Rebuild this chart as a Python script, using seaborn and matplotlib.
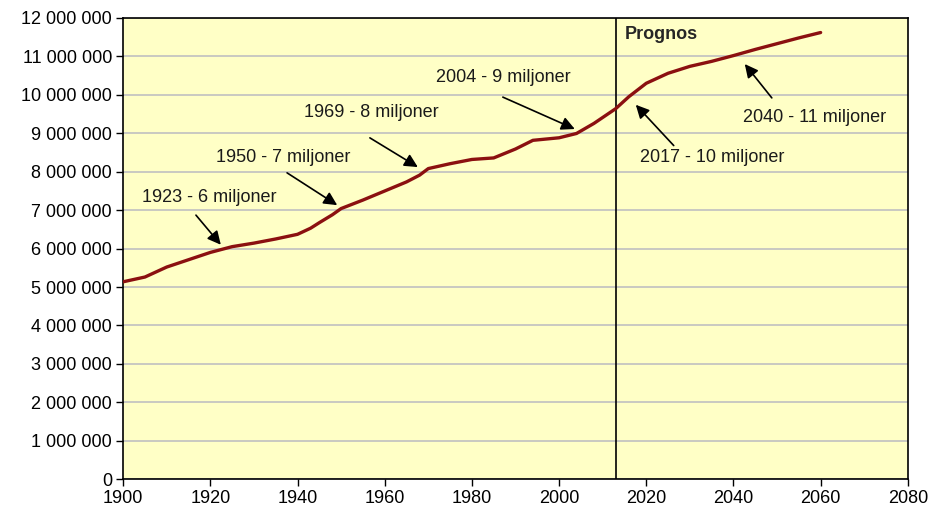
import seaborn as sns
import pandas as pd
import matplotlib.pyplot as plt
from matplotlib.ticker import FuncFormatter, MultipleLocator

# Sweden's population, history + forecast
years = [1900, 1905, 1910, 1915, 1920, 1923, 1925, 1930, 1935, 1940, 1943, 1945,
         1948, 1950, 1955, 1960, 1965, 1968, 1970, 1975, 1980, 1985, 1990, 1994,
         2000, 2004, 2008, 2013, 2016, 2020, 2025, 2030, 2035, 2040, 2045, 2050,
         2055, 2060]
population = [5136000, 5260000, 5520000, 5710000, 5900000, 5990000, 6050000,
              6142000, 6250000, 6371000, 6530000, 6674000, 6880000, 7041000,
              7262000, 7498000, 7734000, 7910000, 8081000, 8208000, 8318000,
              8358000, 8590000, 8816000, 8882000, 8994000, 9256000, 9640000,
              9950000, 10300000, 10560000, 10740000, 10870000, 11020000,
              11180000, 11330000, 11480000, 11620000]

# Annotations: label, text centre, arrow tail, arrow head
labels = ["1923 - 6 miljoner", "1950 - 7 miljoner", "1969 - 8 miljoner",
          "2004 - 9 miljoner", "2017 - 10 miljoner", "2040 - 11 miljoner"]
label_texts = [(1919.8, 7340000), (1936.8, 8380000), (1957.0, 9530000),
               (1987.2, 10460000), (2035.2, 8380000), (2058.6, 9420000)]
arrow_tails = [(1916.7, 6870000), (1937.6, 7970000), (1956.6, 8880000),
               (1987.1, 9940000), (2026.3, 8680000), (2048.8, 9920000)]
arrow_heads = [(1922.4, 6100000), (1949.1, 7130000), (1967.6, 8120000),
               (2003.6, 9110000), (2017.6, 9740000), (2042.6, 10800000)]

forecast_start = 2013

df = pd.DataFrame({"year": years, "population": population})

#-----------------------------------------------------------------------------------------------------------------------
sns.set_style("white")
plt.rcParams['font.family'] = ['Liberation Sans', 'DejaVu Sans']

fig, ax = plt.subplots(figsize=(9.33, 5.12), dpi=100)
fig.subplots_adjust(left=0.132, right=0.973, bottom=0.064, top=0.965)

sns.lineplot(data=df, x="year", y="population", ax=ax, color="#8b1010", linewidth=2.4, zorder=3)

ax.axvline(forecast_start, color="black", linewidth=1.2, zorder=2)
ax.text(forecast_start + 2.1, 11560000, "Prognos", fontsize=13, fontweight="bold", va="center")

for lab, tx, tail, head in zip(labels, label_texts, arrow_tails, arrow_heads):
    ax.text(tx[0], tx[1], lab, fontsize=13, color="#1a1a1a", ha="center", va="center")
    ax.annotate("", xy=head, xytext=tail,
                arrowprops=dict(arrowstyle="-|>", color="black", lw=1.2, mutation_scale=20,
                                shrinkA=0, shrinkB=0))

#-----------------------------------------------------------------------------------------------------------------------
ax.set_xlim(1900, 2080)
ax.set_ylim(0, 12000000)
ax.xaxis.set_major_locator(MultipleLocator(20))
ax.yaxis.set_major_locator(MultipleLocator(1000000))
ax.yaxis.set_major_formatter(FuncFormatter(lambda v, p: f"{int(v):,}".replace(",", " ")))
ax.set_xlabel("")
ax.set_ylabel("")

ax.set_facecolor("#ffffc6")
fig.patch.set_facecolor("white")
ax.grid(axis="y", color="#c0c0c0", linewidth=1.2, zorder=0)
ax.set_axisbelow(True)
for sp in ax.spines.values():
    sp.set_color("black")
    sp.set_linewidth(1.2)
    sp.set_visible(True)
ax.tick_params(axis="both", direction="out", length=5, width=1, colors="black", labelsize=13,
               left=True, bottom=True, pad=3)

fig.savefig("out.png", dpi=100)
